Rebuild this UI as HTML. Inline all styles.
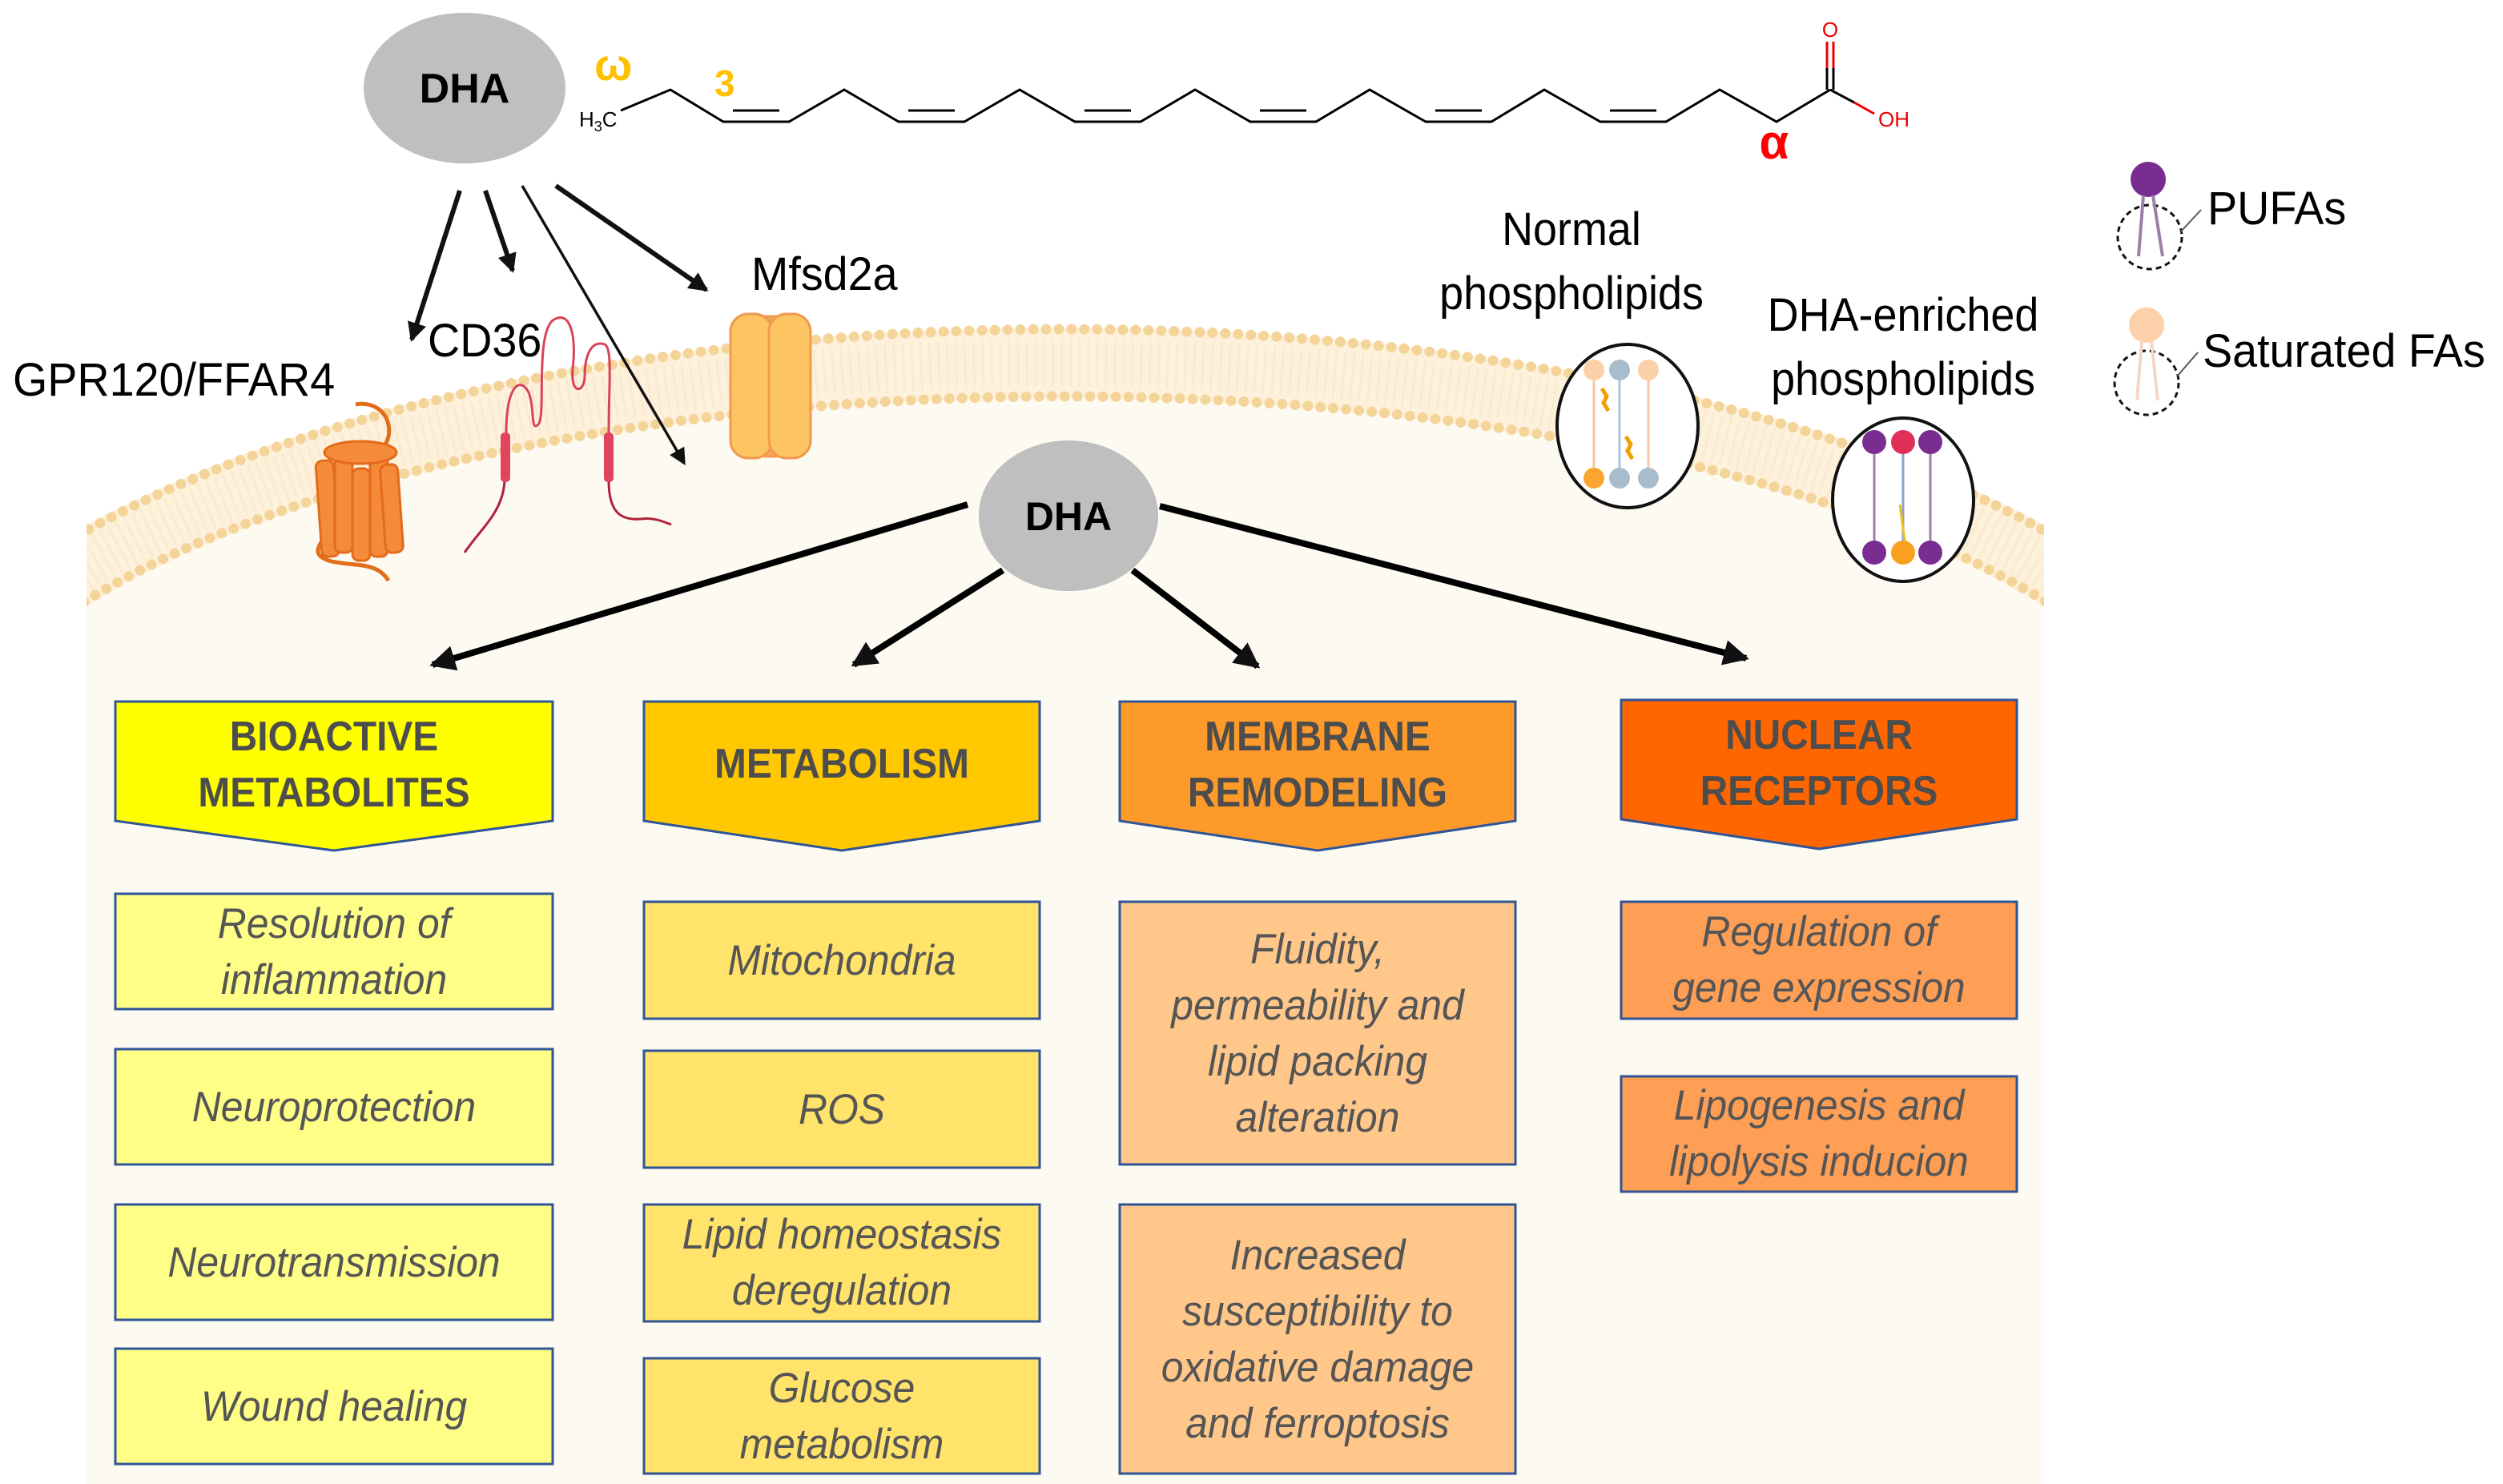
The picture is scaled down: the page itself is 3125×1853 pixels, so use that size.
<!DOCTYPE html>
<html><head><meta charset="utf-8"><style>
html,body{margin:0;padding:0;background:#fff;}
svg{display:block;}
text{font-family:"Liberation Sans Narrow","Liberation Sans",sans-serif;}
.h{font-weight:bold;font-size:52px;fill:#4d4d4d;text-anchor:middle;transform-box:fill-box;transform-origin:center;transform:scaleX(0.92);}
.i{font-style:italic;font-size:53px;fill:#555;text-anchor:middle;transform-box:fill-box;transform-origin:center;transform:scaleX(0.94);}
.l{font-size:58px;fill:#000;transform-box:fill-box;transform-origin:left;transform:scaleX(0.96);}
.lc{font-size:58px;fill:#000;text-anchor:middle;transform-box:fill-box;transform-origin:center;transform:scaleX(0.93);}
</style></head><body>
<svg width="3125" height="1853" viewBox="0 0 3125 1853" xmlns="http://www.w3.org/2000/svg">
<defs>
<clipPath id="cl"><rect x="108" y="0" width="2444" height="1853"/></clipPath>
<marker id="ah" markerWidth="6" markerHeight="6" refX="5" refY="3" orient="auto" markerUnits="strokeWidth"><path d="M0,0 L6,3 L0,6 z" fill="#111"/></marker>
<marker id="ah2" markerWidth="4" markerHeight="4" refX="3.5" refY="2" orient="auto" markerUnits="strokeWidth"><path d="M0,0 L4,2 L0,4 z" fill="#111"/></marker>
</defs>
<rect width="3125" height="1853" fill="#fff"/>
<g clip-path="url(#cl)">
<path d="M-128,1010 A1458,557 0 0 1 2788,1010 L2788,1853 L-128,1853 Z" fill="#fdfaf1"/>
<ellipse cx="1330" cy="1010" rx="1458" ry="557" fill="none" stroke="#fdf1dc" stroke-width="88"/>
<ellipse cx="1330" cy="1010" rx="1458" ry="557" fill="none" stroke="#f7e3c0" stroke-width="60" stroke-dasharray="2 9" opacity="0.6"/>
<ellipse cx="1330" cy="1010" rx="1500" ry="599" fill="none" stroke="#f5d49a" stroke-width="13" stroke-linecap="round" stroke-dasharray="0 16"/>
<ellipse cx="1330" cy="1010" rx="1416" ry="515" fill="none" stroke="#f5d49a" stroke-width="13" stroke-linecap="round" stroke-dasharray="0 16"/>
</g>
<rect x="108" y="1010" width="2444" height="843" fill="#fdfaf1"/>

<ellipse cx="580" cy="110" rx="126" ry="94" fill="#bfbfbf"/>
<text x="580" y="128" text-anchor="middle" font-weight="bold" font-size="52" fill="#000">DHA</text>
<text x="742" y="100" font-size="56" font-weight="bold" fill="#ffc000">ω</text>
<text x="892" y="120" font-size="46" font-weight="bold" fill="#ffc000">3</text>
<text x="723" y="158" font-size="26" fill="#000">H<tspan font-size="18" dy="6">3</tspan><tspan dy="-6">C</tspan></text>
<polyline fill="none" stroke="#000" stroke-width="3" points="775,138 837,112 903,152 985,152 1054,112 1122,152 1204,152 1273,112 1342,152 1424,152 1492,112 1561,152 1643,152 1710,112 1780,152 1862,152 1928,112 1998,152 2080,152 2147,112 2218,152 2285,112"/>
<g stroke="#000" stroke-width="3">
<line x1="915" y1="138" x2="973" y2="138"/><line x1="1134" y1="138" x2="1192" y2="138"/><line x1="1354" y1="138" x2="1412" y2="138"/><line x1="1573" y1="138" x2="1631" y2="138"/><line x1="1792" y1="138" x2="1850" y2="138"/><line x1="2010" y1="138" x2="2068" y2="138"/>
</g>
<line x1="2285" y1="112" x2="2315" y2="128" stroke="#000" stroke-width="3"/>
<line x1="2315" y1="128" x2="2340" y2="142" stroke="#e00" stroke-width="3"/>
<line x1="2281" y1="112" x2="2281" y2="85" stroke="#000" stroke-width="3"/>
<line x1="2289" y1="112" x2="2289" y2="85" stroke="#000" stroke-width="3"/>
<line x1="2281" y1="85" x2="2281" y2="52" stroke="#e00" stroke-width="3"/>
<line x1="2289" y1="85" x2="2289" y2="52" stroke="#e00" stroke-width="3"/>
<text x="2285" y="46" text-anchor="middle" font-size="26" fill="#e00">O</text>
<text x="2345" y="158" font-size="26" fill="#e00">OH</text>
<text x="2215" y="198" text-anchor="middle" font-size="60" font-weight="bold" fill="#f00">α</text>

<g stroke="#111" fill="none">
<line x1="574" y1="238" x2="514" y2="424" stroke-width="6" marker-end="url(#ah2)"/>
<line x1="606" y1="238" x2="640" y2="338" stroke-width="6" marker-end="url(#ah2)"/>
<line x1="652" y1="232" x2="854" y2="578" stroke-width="3.5" marker-end="url(#ah)"/>
<line x1="694" y1="232" x2="882" y2="362" stroke-width="6" marker-end="url(#ah2)"/>
</g>

<g stroke="#e36c1a" stroke-width="5" fill="none">
<path d="M444,505 C470,500 490,520 485,545 C480,565 470,560 478,575"/>
<path d="M420,650 C400,680 385,690 410,700 C440,708 470,700 485,725"/>
</g>
<g fill="#f58a3a" stroke="#e36c1a" stroke-width="3">
<rect x="398" y="575" width="22" height="120" rx="8" transform="rotate(-4 409 635)"/>
<rect x="418" y="565" width="22" height="125" rx="8"/>
<rect x="440" y="585" width="22" height="115" rx="8"/>
<rect x="462" y="570" width="22" height="125" rx="8"/>
<rect x="478" y="580" width="22" height="110" rx="8" transform="rotate(-4 489 635)"/>
<ellipse cx="450" cy="565" rx="45" ry="14"/>
</g>
<g fill="none" stroke="#d9435a" stroke-width="3">
<path d="M632,540 C632,480 650,470 660,490 C668,510 662,540 672,530 C682,520 668,420 690,400 C712,385 720,420 715,460 C712,495 730,490 730,470 C730,440 740,425 755,430 C765,435 760,480 760,540"/>
<path d="M630,600 C628,640 600,660 580,690" stroke="#b0203a"/>
<path d="M760,600 C760,640 775,650 800,648 C815,646 825,650 838,655" stroke="#b0203a"/>
</g>
<rect x="625" y="540" width="12" height="62" rx="5" fill="#e2435e"/>
<rect x="754" y="540" width="12" height="62" rx="5" fill="#e2435e"/>
<g fill="#fcc463" stroke="#f19a50" stroke-width="3">
<rect x="955" y="395" width="14" height="175" fill="#f4a85a"/>
<rect x="912" y="392" width="52" height="180" rx="22"/>
<rect x="960" y="392" width="52" height="180" rx="22"/>
</g>

<text class="l" x="16" y="494">GPR120/FFAR4</text>
<text class="l" x="534" y="445">CD36</text>
<text class="l" x="938" y="362">Mfsd2a</text>
<text class="lc" x="1962" y="306">Normal</text>
<text class="lc" x="1962" y="386">phospholipids</text>
<text class="lc" x="2376" y="413">DHA-enriched</text>
<text class="lc" x="2376" y="493">phospholipids</text>
<text class="l" x="2756" y="280">PUFAs</text>
<text class="l" x="2750" y="458">Saturated FAs</text>

<ellipse cx="2032" cy="532" rx="88" ry="102" fill="#fff" stroke="#111" stroke-width="4"/>
<g stroke-width="3">
<line x1="1990" y1="470" x2="1990" y2="590" stroke="#f6c6a6"/><line x1="2022" y1="470" x2="2022" y2="590" stroke="#a9c6e0"/><line x1="2058" y1="470" x2="2058" y2="590" stroke="#f6c6a6"/>
</g>
<circle cx="1990" cy="462" r="13" fill="#fbcfa8"/><circle cx="2022" cy="462" r="13" fill="#a9bccb"/><circle cx="2058" cy="462" r="13" fill="#fbcfa8"/>
<circle cx="1990" cy="597" r="13" fill="#f9a530"/><circle cx="2022" cy="597" r="13" fill="#a9bccb"/><circle cx="2058" cy="597" r="13" fill="#a9bccb"/>
<path d="M2000,485 l6,10 -4,8 6,10" stroke="#f0a000" stroke-width="5" fill="none"/>
<path d="M2030,545 l6,10 -4,8 6,10" stroke="#f0a000" stroke-width="5" fill="none"/>
<ellipse cx="2376" cy="624" rx="88" ry="102" fill="#fff" stroke="#111" stroke-width="4"/>
<g stroke-width="3">
<line x1="2340" y1="560" x2="2340" y2="690" stroke="#9a80a8"/><line x1="2376" y1="560" x2="2376" y2="690" stroke="#8aa0d0"/><line x1="2410" y1="560" x2="2410" y2="690" stroke="#9a80a8"/>
<line x1="2372" y1="630" x2="2380" y2="690" stroke="#f0c020"/>
</g>
<circle cx="2340" cy="552" r="15" fill="#7a2d91"/><circle cx="2376" cy="552" r="15" fill="#e0305a"/><circle cx="2410" cy="552" r="15" fill="#7a2d91"/>
<circle cx="2340" cy="690" r="15" fill="#7a2d91"/><circle cx="2376" cy="690" r="15" fill="#f9a020"/><circle cx="2410" cy="690" r="15" fill="#7a2d91"/>

<circle cx="2682" cy="224" r="22" fill="#7a2d91"/>
<circle cx="2684" cy="296" r="40" fill="none" stroke="#111" stroke-width="3" stroke-dasharray="7 5"/>
<line x1="2676" y1="244" x2="2670" y2="320" stroke="#9a80a8" stroke-width="4"/><line x1="2688" y1="244" x2="2700" y2="320" stroke="#9a80a8" stroke-width="4"/>
<line x1="2722" y1="290" x2="2748" y2="262" stroke="#555" stroke-width="2"/>
<circle cx="2680" cy="406" r="22" fill="#fcd0a8"/>
<circle cx="2680" cy="478" r="40" fill="none" stroke="#111" stroke-width="3" stroke-dasharray="7 5"/>
<line x1="2674" y1="426" x2="2668" y2="500" stroke="#f6d6c6" stroke-width="4"/><line x1="2686" y1="426" x2="2694" y2="500" stroke="#f6d6c6" stroke-width="4"/>
<line x1="2718" y1="470" x2="2744" y2="440" stroke="#555" stroke-width="2"/>

<ellipse cx="1334" cy="644" rx="112" ry="94" fill="#bfbfbf"/>
<text x="1334" y="662" text-anchor="middle" font-weight="bold" font-size="50" fill="#000">DHA</text>
<g stroke="#000" stroke-width="8" fill="none">
<line x1="1208" y1="630" x2="540" y2="830" marker-end="url(#ah2)"/>
<line x1="1252" y1="712" x2="1066" y2="830" marker-end="url(#ah2)"/>
<line x1="1414" y1="712" x2="1570" y2="832" marker-end="url(#ah2)"/>
<line x1="1448" y1="632" x2="2180" y2="822" marker-end="url(#ah2)"/>
</g>

<g stroke="#2f5597" stroke-width="3">
<path d="M144,876 H690 V1025 L417,1062 L144,1025 Z" fill="#ffff00"/>
<path d="M804,876 H1298 V1025 L1051,1062 L804,1025 Z" fill="#ffc800"/>
<path d="M1398,876 H1892 V1025 L1645,1062 L1398,1025 Z" fill="#fd9a2a"/>
<path d="M2024,874 H2518 V1023 L2271,1060 L2024,1023 Z" fill="#ff6600"/>
</g>
<text class="h" x="417" y="937">BIOACTIVE</text><text class="h" x="417" y="1007">METABOLITES</text>
<text class="h" x="1051" y="971">METABOLISM</text>
<text class="h" x="1645" y="937">MEMBRANE</text><text class="h" x="1645" y="1007">REMODELING</text>
<text class="h" x="2271" y="935">NUCLEAR</text><text class="h" x="2271" y="1005">RECEPTORS</text>

<g stroke="#2f5597" stroke-width="3">
<rect x="144" y="1116" width="546" height="144" fill="#ffff88"/>
<rect x="144" y="1310" width="546" height="144" fill="#ffff88"/>
<rect x="144" y="1504" width="546" height="144" fill="#ffff88"/>
<rect x="144" y="1684" width="546" height="144" fill="#ffff88"/>
<rect x="804" y="1126" width="494" height="146" fill="#ffe36b"/>
<rect x="804" y="1312" width="494" height="146" fill="#ffe36b"/>
<rect x="804" y="1504" width="494" height="146" fill="#ffe36b"/>
<rect x="804" y="1696" width="494" height="144" fill="#ffe36b"/>
<rect x="1398" y="1126" width="494" height="328" fill="#ffc78a"/>
<rect x="1398" y="1504" width="494" height="336" fill="#ffc78a"/>
<rect x="2024" y="1126" width="494" height="146" fill="#ff9f55"/>
<rect x="2024" y="1344" width="494" height="144" fill="#ff9f55"/>
</g>
<text class="i" x="417" y="1171">Resolution of</text><text class="i" x="417" y="1241">inflammation</text>
<text class="i" x="417" y="1400">Neuroprotection</text>
<text class="i" x="417" y="1594">Neurotransmission</text>
<text class="i" x="417" y="1774">Wound healing</text>
<text class="i" x="1051" y="1217">Mitochondria</text>
<text class="i" x="1051" y="1403">ROS</text>
<text class="i" x="1051" y="1559">Lipid homeostasis</text><text class="i" x="1051" y="1629">deregulation</text>
<text class="i" x="1051" y="1751">Glucose</text><text class="i" x="1051" y="1821">metabolism</text>
<text class="i" x="1645" y="1203">Fluidity,</text><text class="i" x="1645" y="1273">permeability and</text><text class="i" x="1645" y="1343">lipid packing</text><text class="i" x="1645" y="1413">alteration</text>
<text class="i" x="1645" y="1585">Increased</text><text class="i" x="1645" y="1655">susceptibility to</text><text class="i" x="1645" y="1725">oxidative damage</text><text class="i" x="1645" y="1795">and ferroptosis</text>
<text class="i" x="2271" y="1181">Regulation of</text><text class="i" x="2271" y="1251">gene expression</text>
<text class="i" x="2271" y="1398">Lipogenesis and</text><text class="i" x="2271" y="1468">lipolysis inducion</text>
</svg>
</body></html>
